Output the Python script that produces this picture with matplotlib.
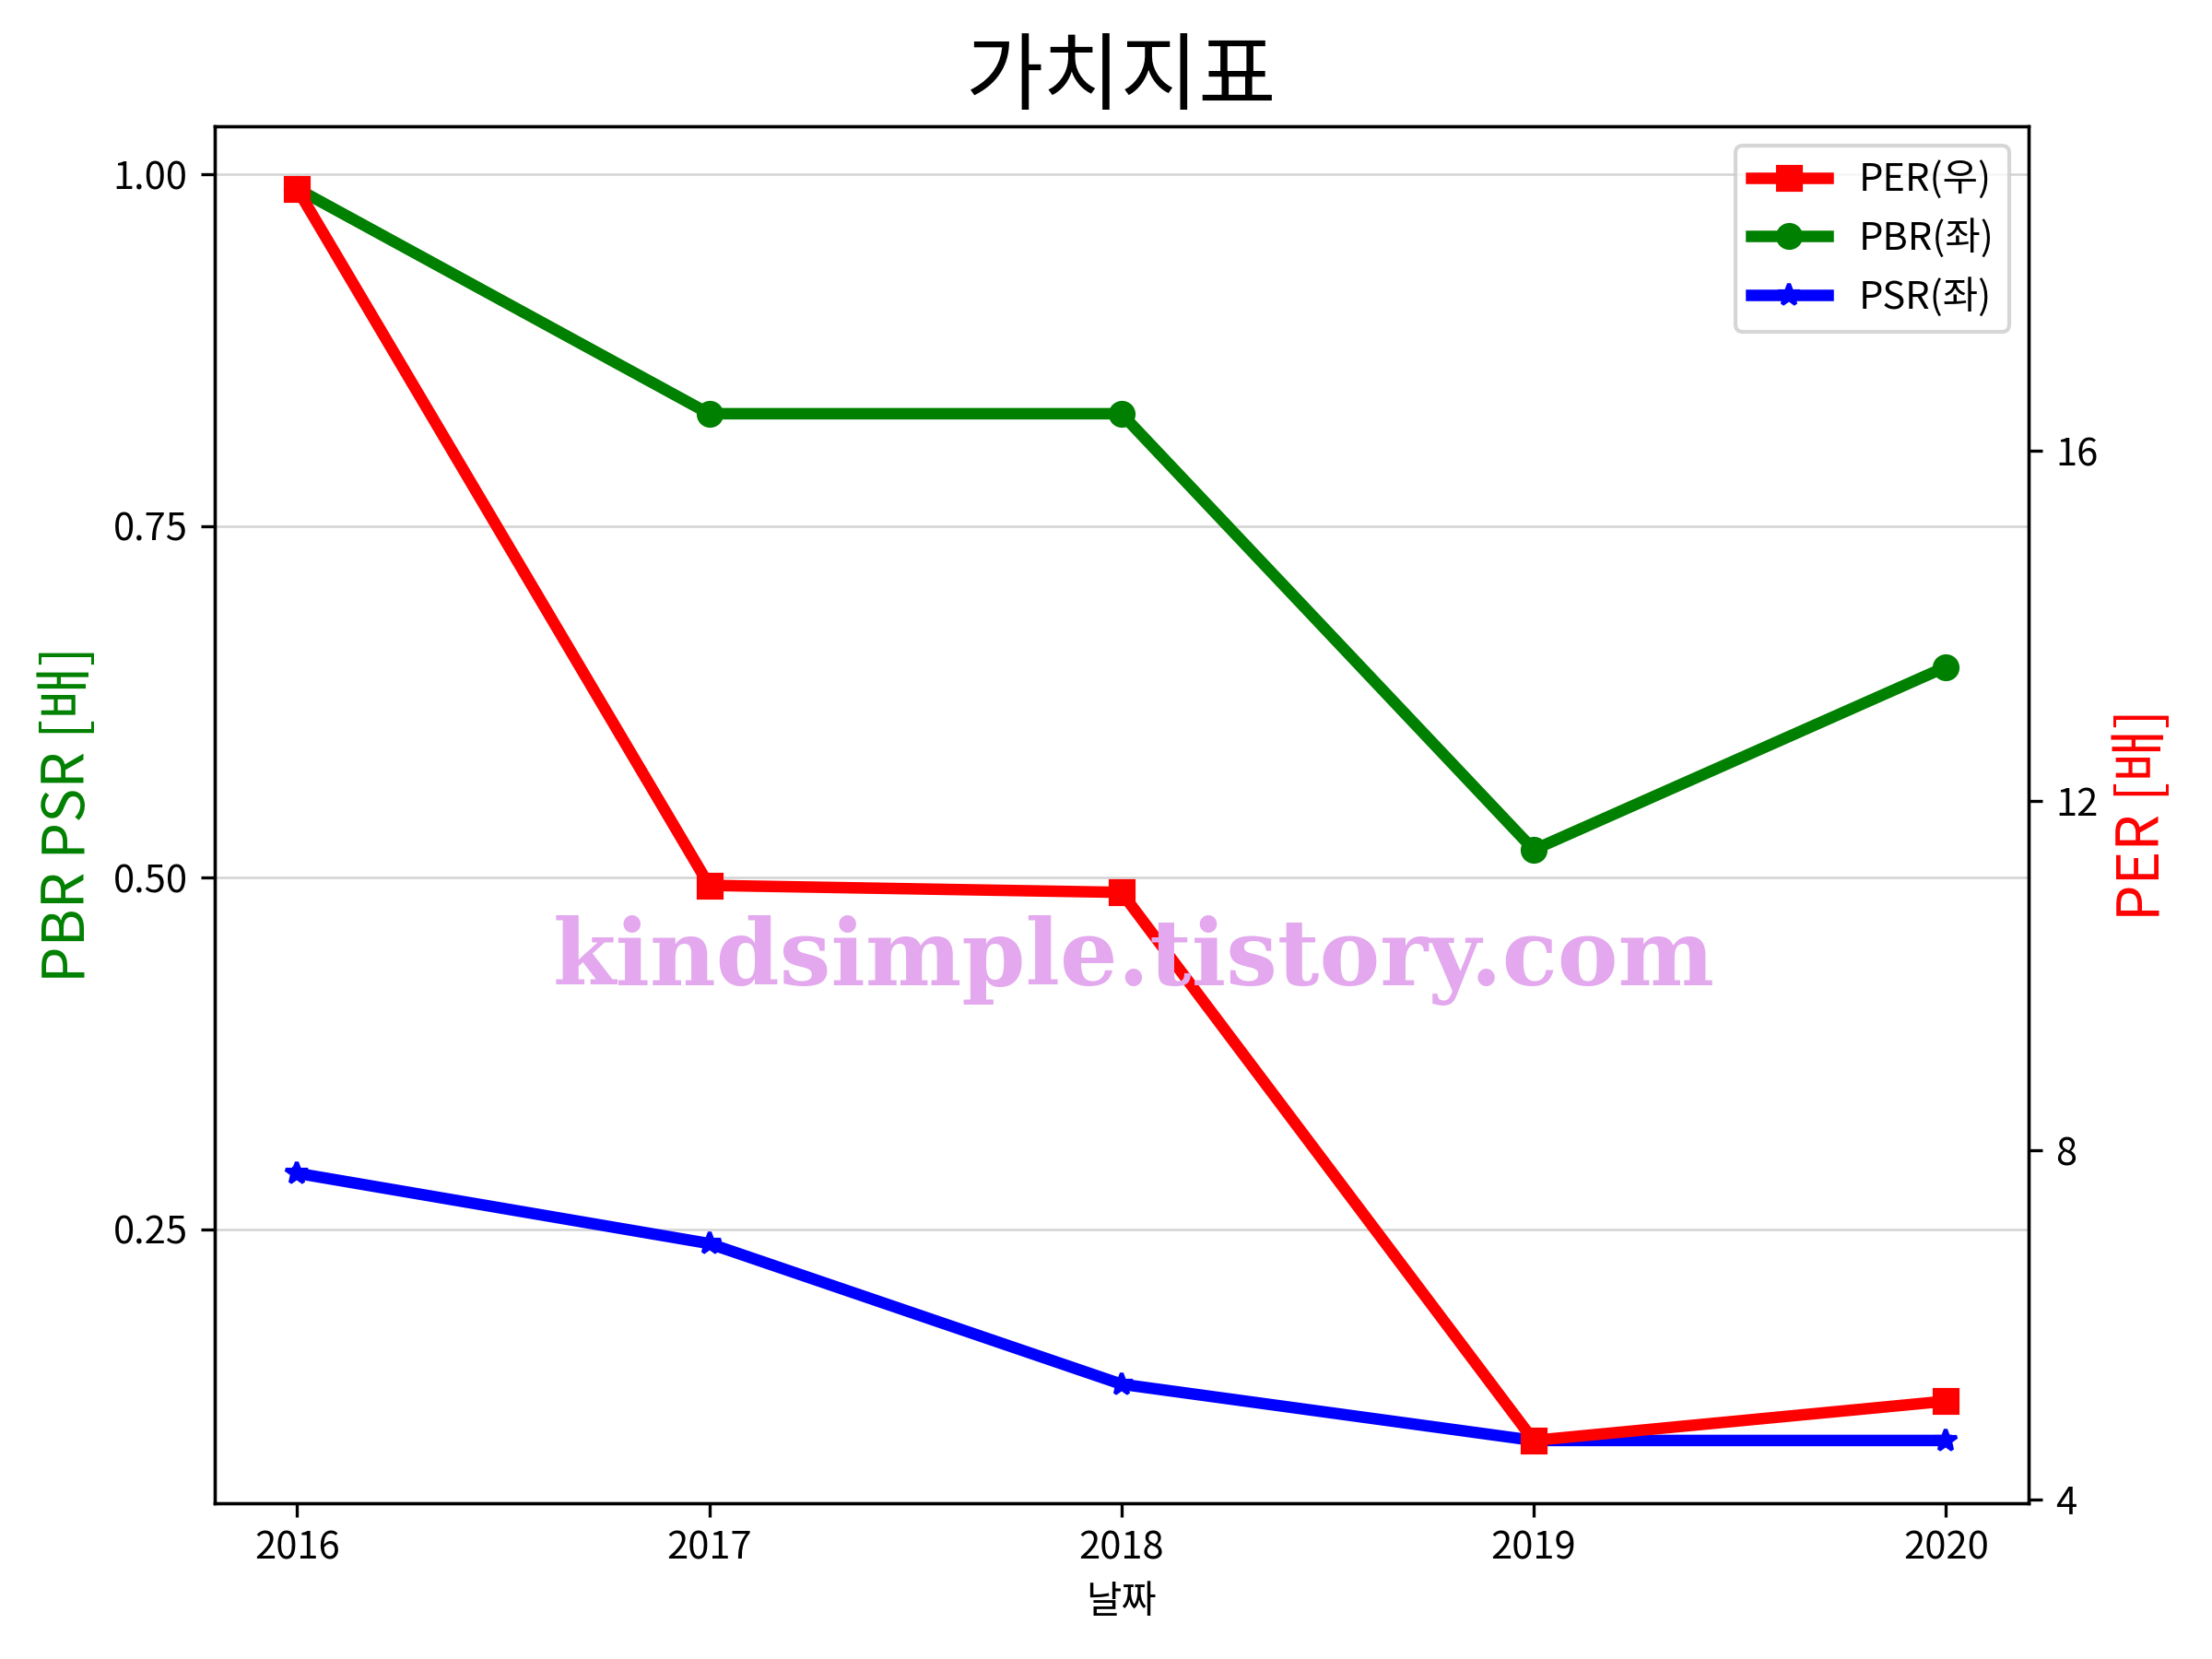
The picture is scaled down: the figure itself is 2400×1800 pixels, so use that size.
import matplotlib
matplotlib.use("Agg")
import matplotlib.pyplot as plt
from matplotlib.ticker import FixedLocator

plt.rcParams['font.family'] = ['Noto Sans CJK KR', 'DejaVu Sans']
plt.rcParams['axes.unicode_minus'] = False

years = ['2016', '2017', '2018', '2019', '2020']
per = [19.0, 11.03, 10.95, 4.68, 5.13]
pbr = [0.99, 0.83, 0.83, 0.52, 0.65]
psr = [0.29, 0.24, 0.14, 0.10, 0.10]

title = '가치지표'
watermark = 'kindsimple.tistory.com'

fig, ax = plt.subplots(figsize=(8, 6), dpi=300)
fig.subplots_adjust(left=0.097, right=0.917, top=0.924, bottom=0.094)
ax2 = ax.twinx()

l2, = ax.plot(years, pbr, color='green', marker='o', lw=3, label='PBR(좌)')
l3, = ax.plot(years, psr, color='blue', marker='*', lw=3, label='PSR(좌)')
l1, = ax2.plot(years, per, color='red', marker='s', lw=3, label='PER(우)')

ax.yaxis.set_major_locator(FixedLocator([0.25, 0.50, 0.75, 1.00]))
ax2.yaxis.set_major_locator(FixedLocator([4, 8, 12, 16]))
ax.grid(axis='y', color='lightgray', lw=0.6)

ax.set_ylabel('PBR PSR [배]', color='green', fontsize=15)
ax2.set_ylabel('PER [배]', color='red', fontsize=15)
ax.set_xlabel('날짜', labelpad=4)
ax.set_title(title, fontsize=22, pad=6)

ax2.legend(handles=[l1, l2, l3], loc='upper right')

ax2.text(0.507, 0.394, watermark, transform=ax.transAxes, ha='center', va='center',
         fontsize=23.7, fontweight='bold', family='DejaVu Serif', color='#e3a8ee', zorder=10)

fig.savefig('out.png', dpi=300)
